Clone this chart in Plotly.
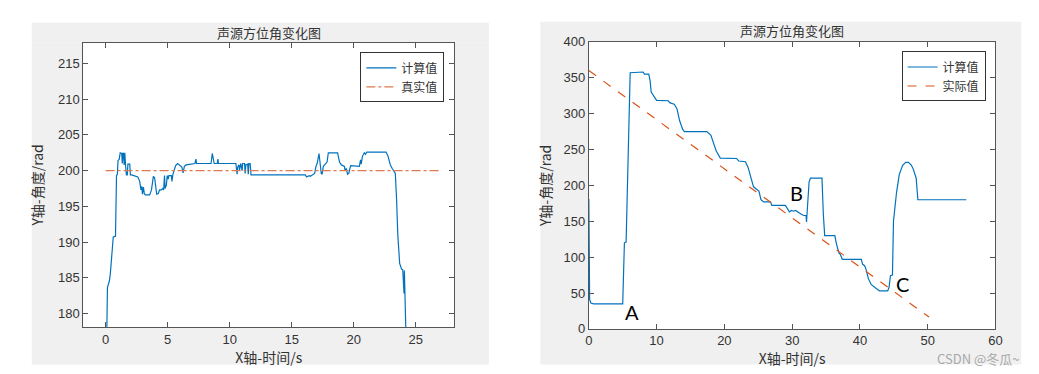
import plotly.graph_objects as go

# ---------------- data: left chart ----------------
t_left = [0.10, 0.15, 0.30, 0.38, 0.62, 0.80, 0.88, 0.95, 1.00, 1.10, 1.18, 1.30, 1.35, 1.40, 1.45,
          1.50, 1.55, 1.62, 1.68, 1.75, 1.80, 1.95, 2.00, 2.10, 2.60, 2.75, 2.85, 2.92, 2.97, 3.05,
          3.12, 3.20, 3.55, 3.70, 3.85, 3.95, 4.05, 4.12, 4.25, 4.35, 4.50, 4.60, 4.68, 4.75, 4.80,
          4.90, 4.97, 5.05, 5.10, 5.30, 5.35, 5.42, 5.55, 5.65, 5.80, 6.00, 6.15, 6.25, 6.35, 6.50,
          7.10, 7.20, 7.28, 7.33, 8.50, 8.60, 8.68, 8.75, 9.00, 9.05, 9.10, 10.50, 10.60, 10.65, 10.75,
          10.80, 10.90, 11.00, 11.05, 11.20, 11.25, 11.30, 11.45, 11.50, 11.55, 11.65, 11.72, 16.10,
          16.20, 16.40, 16.50, 16.70, 16.85, 16.95, 17.05, 17.20, 17.28, 17.38, 17.45, 17.55, 17.70,
          17.85, 17.95, 18.70, 18.85, 19.00, 19.25, 19.30, 19.40, 19.50, 19.60, 19.75, 20.45, 20.55,
          20.60, 20.70, 20.85, 20.95, 21.05, 22.60, 22.75, 22.85, 22.95, 23.10, 23.25, 23.35, 23.45,
          23.55, 23.70, 23.85, 23.95, 24.02, 24.05, 24.08, 24.12, 24.20]
calc_left = [177.5, 183.6, 184.5, 185.5, 190.7, 190.8, 199.3, 199.5, 201.4, 201.6, 202.5, 202.4, 201.0,
             202.5, 202.4, 200.8, 202.5, 200.5, 199.4, 199.4, 200.9, 200.9, 199.4, 199.4, 199.1, 198.5,
             197.3, 197.8, 196.7, 197.7, 196.8, 196.6, 196.6, 197.3, 199.2, 199.0, 197.2, 196.7, 196.8,
             197.3, 197.3, 197.5, 197.3, 199.3, 197.5, 198.0, 199.3, 198.8, 199.3, 199.3, 198.5, 199.4,
             200.2, 200.7, 201.0, 200.7, 200.5, 199.7, 200.6, 200.8, 200.9, 201.0, 201.6, 201.0, 201.0,
             202.4, 201.7, 201.0, 201.0, 201.6, 201.0, 201.0, 199.5, 200.5, 200.8, 200.1, 201.0, 200.0,
             201.0, 201.0, 199.6, 200.8, 200.9, 199.5, 201.0, 201.0, 199.4, 199.4, 199.1, 199.3, 199.2,
             199.4, 199.6, 200.6, 201.0, 202.4, 201.0, 199.6, 199.5, 200.6, 200.9, 201.2, 202.5, 202.5,
             201.2, 200.8, 200.6, 200.0, 200.3, 199.5, 199.6, 200.7, 200.6, 201.5, 200.9, 202.0, 202.5,
             202.3, 202.6, 202.6, 202.1, 201.3, 200.8, 200.3, 199.9, 199.6, 196.0, 191.0, 187.0, 186.2,
             186.1, 184.0, 182.8, 186.0, 183.0, 177.5]
t_true_left = [0, 27]
true_left = [200, 200]

# ---------------- data: right chart ----------------
t_right = [0.00, 0.05, 0.12, 0.30, 0.70, 5.00, 5.15, 5.25, 5.50, 5.75, 6.10, 8.00, 8.20, 8.85, 9.05,
           9.20, 9.50, 9.70, 10.00, 11.70, 12.00, 12.60, 13.00, 13.40, 13.85, 14.10, 17.40, 18.00,
           18.40, 18.80, 19.40, 21.80, 22.10, 23.10, 23.50, 23.90, 24.30, 24.70, 25.10, 25.40, 25.80,
           26.80, 27.00, 29.00, 29.30, 29.60, 29.90, 30.20, 30.50, 30.90, 31.30, 31.70, 32.05, 32.12,
           32.20, 32.30, 32.50, 32.70, 34.40, 34.60, 34.80, 36.30, 36.50, 36.90, 37.10, 37.40, 40.20,
           40.40, 40.70, 40.90, 41.25, 41.65, 42.00, 42.60, 42.90, 44.10, 44.30, 44.50, 44.80, 44.95,
           45.40, 45.80, 46.30, 46.75, 47.15, 47.60, 47.90, 48.30, 48.55, 55.70]
calc_right = [181, 120, 41, 36, 34.8, 34.8, 118, 120, 121, 240, 357, 358, 355, 355, 345, 330, 325, 323,
              318.5, 318, 315, 313, 307, 290, 278, 275, 275, 270, 258, 248, 238, 237.5, 234, 233, 225,
              212, 198, 195, 192, 180, 177, 177, 172, 172, 168, 163, 165, 164, 165, 162, 160, 158, 158,
              149, 163, 165, 205, 210, 210, 160, 130, 130, 120, 106, 104, 97, 97, 90, 88, 83, 70, 62, 59,
              55, 53, 53, 58, 74, 75, 150, 190, 215, 228, 232, 232, 228, 222, 210, 180, 180]
t_true_right = [0, 50.2]
true_right = [360, 16.5]

labels_abc = ["A", "B", "C"]
x_abc = [6.4, 30.7, 46.3]
y_abc = [24, 189, 63]

title_text = "声源方位角变化图"
xlabel = "X轴-时间/s"
ylabel = "Y轴-角度/rad"

BLUE = "#0072BD"
ORANGE = "#D95319"
AX = "#555555"
TXT = "#333333"
CJK = "Noto Sans CJK SC"
LAT = "Liberation Sans"
W, H = 1039, 374

fig = go.Figure()
fig.add_trace(go.Scatter(x=t_left, y=calc_left, mode="lines", name="计算值",
                         line=dict(color=BLUE, width=1.2), xaxis="x", yaxis="y", legend="legend"))
fig.add_trace(go.Scatter(x=t_true_left, y=true_left, mode="lines", name="真实值",
                         line=dict(color="#E07A50", width=1.2, dash="dashdot"), xaxis="x", yaxis="y",
                         legend="legend"))
fig.add_trace(go.Scatter(x=t_right, y=calc_right, mode="lines", name="计算值",
                         line=dict(color=BLUE, width=1.2), xaxis="x2", yaxis="y2", legend="legend2"))
fig.add_trace(go.Scatter(x=t_true_right, y=true_right, mode="lines", name="实际值",
                         line=dict(color=ORANGE, width=1.2, dash="dash"), xaxis="x2", yaxis="y2",
                         legend="legend2"))

axis_common = dict(showgrid=False, zeroline=False, showline=True, linecolor=AX, linewidth=1,
                   mirror="ticks", ticks="inside", ticklen=5, tickcolor=AX,
                   tickfont=dict(family=LAT, size=13, color=TXT))

legend_common = dict(bgcolor="white", bordercolor="#333333", borderwidth=1,
                     font=dict(family=CJK, size=12, color=TXT), xanchor="right", yanchor="top",
                     tracegroupgap=0, itemwidth=30)


def frame_rects(outer, inner):
    """Four gray strips of the figure window surrounding the white axes box (pixel boxes)."""
    ox0, oy0, ox1, oy1 = outer
    ix0, iy0, ix1, iy1 = inner
    boxes = [(ox0, oy0, ox1, iy0), (ox0, iy1, ox1, oy1), (ox0, iy0, ix0, iy1), (ix1, iy0, ox1, iy1)]
    return [dict(type="rect", xref="paper", yref="paper", x0=a / W, x1=c / W, y0=1 - d / H, y1=1 - b / H,
                 fillcolor="#f0f0f0", line=dict(width=0), layer="below") for a, b, c, d in boxes]


fig.update_layout(
    width=W, height=H, margin=dict(l=0, r=0, t=0, b=0),
    paper_bgcolor="white", plot_bgcolor="white", showlegend=True,
    xaxis=dict(domain=[72 / W, 447 / W], range=[-1.8, 28.1], tickvals=[0, 5, 10, 15, 20, 25],
               anchor="y", title=dict(text=xlabel, standoff=6, font=dict(family=CJK, size=14, color=TXT)),
               **axis_common),
    yaxis=dict(domain=[1 - 325 / H, 1 - 29 / H], range=[178.1, 217.9],
               tickvals=[180, 185, 190, 195, 200, 205, 210, 215], anchor="x",
               title=dict(text=ylabel, standoff=11, font=dict(family=CJK, size=14, color=TXT)),
               **axis_common),
    xaxis2=dict(domain=[583 / W, 994 / W], range=[0, 60], tickvals=[0, 10, 20, 30, 40, 50, 60],
                anchor="y2", title=dict(text=xlabel, standoff=6, font=dict(family=CJK, size=14, color=TXT)),
                **axis_common),
    yaxis2=dict(domain=[1 - 327 / H, 1 - 28 / H], range=[0, 400],
                tickvals=[0, 50, 100, 150, 200, 250, 300, 350, 400], anchor="x2",
                title=dict(text=ylabel, standoff=8, font=dict(family=CJK, size=14, color=TXT)),
                **axis_common),
    legend=dict(x=437 / W, y=1 - 39 / H, **legend_common),
    legend2=dict(x=984 / W, y=1 - 38 / H, **legend_common),
    shapes=frame_rects((20, 8, 482, 364), (72, 29, 447, 325))
    + frame_rects((534, 7, 1020, 364), (583, 28, 994, 327)),
)

annotations = [
    dict(text=title_text, xref="paper", yref="paper", x=(72 + 447) / 2 / W, y=1 - 18 / H,
         showarrow=False, font=dict(family=CJK, size=13, color=TXT), xanchor="center", yanchor="middle"),
    dict(text=title_text, xref="paper", yref="paper", x=(583 + 994) / 2 / W, y=1 - 16 / H,
         showarrow=False, font=dict(family=CJK, size=13, color=TXT), xanchor="center", yanchor="middle"),
    dict(text="CSDN @冬瓜~", xref="paper", yref="paper", x=1020 / W, y=1 - 358 / H,
         showarrow=False, font=dict(family=CJK, size=13, color="#a8a8a8"), xanchor="right",
         yanchor="middle"),
]
for lab, xa, ya in zip(labels_abc, x_abc, y_abc):
    annotations.append(dict(text=lab, x=xa, y=ya, xref="x2", yref="y2", showarrow=False,
                            font=dict(family="Lato", size=20, color="black")))
fig.update_layout(annotations=annotations)

fig.write_html("out.html")
